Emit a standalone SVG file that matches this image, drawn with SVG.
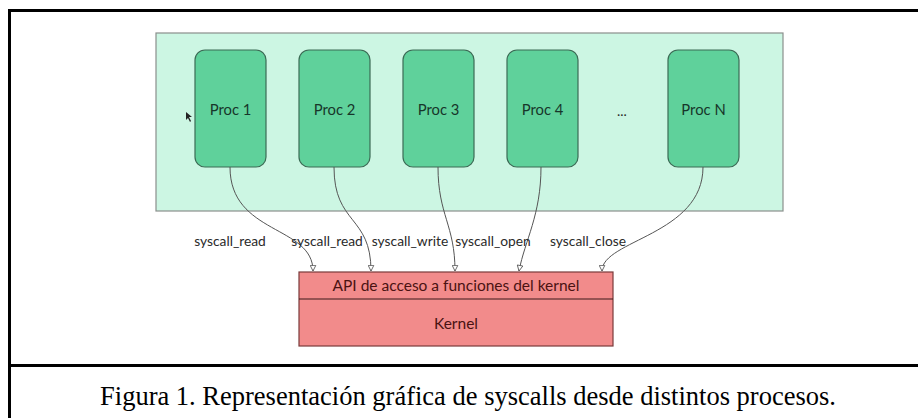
<svg xmlns="http://www.w3.org/2000/svg" width="918" height="418" viewBox="0 0 918 418">
<style>
.proc{fill:#5fd19b;stroke:#3b6b55;stroke-width:1.2}
.ptxt{font-family:Lato,"Open Sans",sans-serif;font-size:14.8px;fill:#17362a;text-anchor:middle}
.lbl{font-family:Lato,"Open Sans",sans-serif;font-size:13.8px;fill:#2a2a2a;text-anchor:middle}
.ktxt{font-family:Lato,"Open Sans",sans-serif;font-size:15.5px;fill:#4a1212;text-anchor:middle}
.edge{fill:none;stroke:#555;stroke-width:1}
</style>
<defs>
<marker id="tri" viewBox="0 0 10 10" refX="9" refY="5" markerWidth="7" markerHeight="7" orient="auto" markerUnits="userSpaceOnUse">
<path d="M1,1 L9,5 L1,9 Z" fill="#fff" stroke="#555" stroke-width="1.2"/>
</marker>
</defs>
<rect x="0" y="0" width="918" height="418" fill="#fff"/>
<rect x="9.5" y="10.5" width="920" height="420" fill="none" stroke="#000" stroke-width="3"/>
<line x1="9.5" y1="365.5" x2="918" y2="365.5" stroke="#000" stroke-width="3"/>
<g id="container">
<rect x="156" y="33" width="627" height="178" fill="#ccf6e3" stroke="#8a8f8c" stroke-width="1.2"/>
</g>
<g id="proc1"><rect class="proc" x="195" y="50" width="71" height="117" rx="10"/><text class="ptxt" x="230.5" y="115">Proc 1</text></g>
<g id="proc2"><rect class="proc" x="299" y="50" width="71" height="117" rx="10"/><text class="ptxt" x="334.5" y="115">Proc 2</text></g>
<g id="proc3"><rect class="proc" x="403" y="50" width="71" height="117" rx="10"/><text class="ptxt" x="438.5" y="115">Proc 3</text></g>
<g id="proc4"><rect class="proc" x="507" y="50" width="71" height="117" rx="10"/><text class="ptxt" x="542.5" y="115">Proc 4</text></g>
<g id="dots"><text class="lbl" x="622" y="116" fill="#666">...</text></g>
<g id="procN"><rect class="proc" x="668" y="50" width="71" height="117" rx="10"/><text class="ptxt" x="703.5" y="115">Proc N</text></g>
<g id="kernel">
<rect x="299" y="272" width="314" height="74" fill="#f28b8b" stroke="#7a3b3b" stroke-width="1.2"/>
<line x1="299" y1="299" x2="613" y2="299" stroke="#3a1a1a" stroke-width="1.2"/>
<text class="ktxt" x="456" y="291">API de acceso a funciones del kernel</text>
<text class="ktxt" x="456" y="329">Kernel</text>
</g>
<g id="connectors">
<path class="edge" marker-end="url(#tri)" d="M230,167 C230,235 313,225 313,271"/>
<path class="edge" marker-end="url(#tri)" d="M334,167 C334,225 371,215 371,271"/>
<path class="edge" marker-end="url(#tri)" d="M438,167 C438,215 455,225 455,271"/>
<path class="edge" marker-end="url(#tri)" d="M541,167 C541,215 525,240 519,271"/>
<path class="edge" marker-end="url(#tri)" d="M703,167 C703,235 602,240 602,271"/>
<text class="lbl" x="230" y="246">syscall_read</text>
<text class="lbl" x="327" y="246">syscall_read</text>
<text class="lbl" x="410" y="246">syscall_write</text>
<text class="lbl" x="493" y="246">syscall_open</text>
<text class="lbl" x="588" y="246">syscall_close</text>
</g>
<path d="M186,112 L186,120 L188,118 L190,122 L191,121 L189,117 L192,117 Z" fill="#222"/>
<text x="468" y="405" font-family="Liberation Serif,serif" font-size="26.5" text-anchor="middle" fill="#000">Figura 1. Representación gráfica de syscalls desde distintos procesos.</text>
</svg>
